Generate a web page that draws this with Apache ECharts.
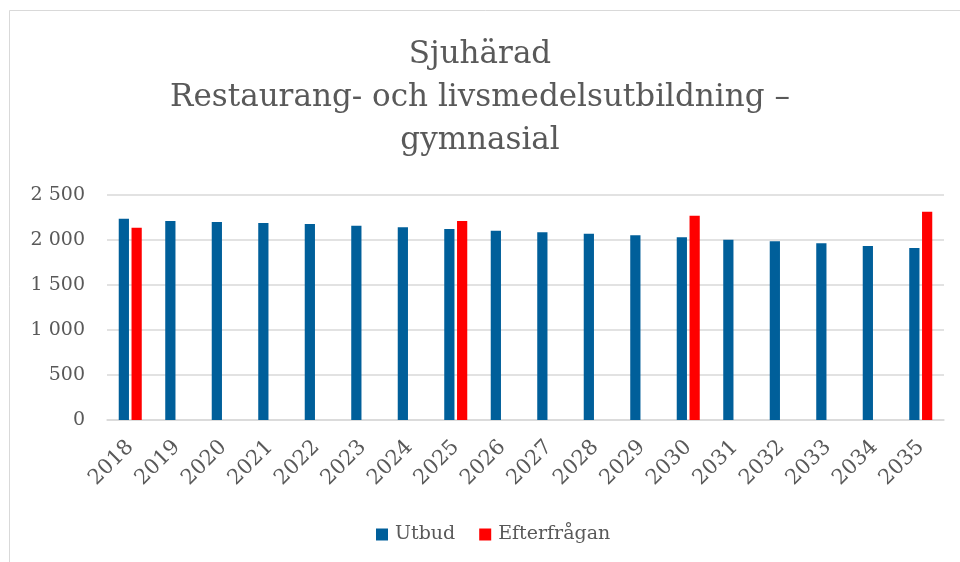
<!DOCTYPE html>
<html>
<head>
<meta charset="utf-8">
<script src="https://cdn.jsdelivr.net/npm/echarts@6/dist/echarts.min.js"></script>
<style>html,body{margin:0;padding:0;background:#fff}#c{width:960px;height:562px}</style>
</head>
<body>
<div id="c"></div>
<script>
const titleText = 'Sjuhärad\nRestaurang- och livsmedelsutbildning –\ngymnasial';
const categories = ['2018','2019','2020','2021','2022','2023','2024','2025','2026','2027','2028','2029','2030','2031','2032','2033','2034','2035'];
const utbud = [2237,2211,2200,2189,2178,2159,2141,2122,2103,2085,2070,2052,2030,2003,1985,1963,1933,1911];
const efterfragan = [2137,null,null,null,null,null,null,2211,null,null,null,null,2270,null,null,null,null,2314];
const seriesNames = ['Utbud','Efterfrågan'];
const yTicks = {min:0, max:2500, interval:500};

const FONT = '"DejaVu Serif", serif';
const chart = echarts.init(document.getElementById('c'), null, {renderer:'canvas'});
chart.setOption({
  animation:false,
  backgroundColor:'#fff',
  graphic:[{type:'rect', shape:{x:9.5,y:10.5,width:1000,height:600}, style:{fill:'none',stroke:'#d9d9d9',lineWidth:1}, silent:true, z:-1}],
  title:{text:titleText, left:'center', top:28, textStyle:{fontFamily:FONT, fontSize:31, fontWeight:'normal', color:'#595959', lineHeight:43}},
  legend:{bottom:13, left:371, itemWidth:12, itemHeight:12, itemGap:24, icon:'rect',
    textStyle:{fontFamily:FONT, fontSize:19, color:'#595959', padding:[0,0,0,2]}, data:seriesNames},
  grid:{left:107, right:16, top:195, bottom:142, containLabel:false},
  xAxis:{type:'category', data:categories,
    axisLine:{lineStyle:{color:'#d9d9d9', width:1.5}}, axisTick:{show:false},
    axisLabel:{rotate:45, interval:0, margin:24, fontFamily:FONT, fontSize:21, color:'#595959'}},
  yAxis:{type:'value', min:yTicks.min, max:yTicks.max, interval:yTicks.interval,
    axisLine:{show:false}, axisTick:{show:false},
    splitLine:{lineStyle:{color:'#d9d9d9', width:1.5}},
    axisLabel:{margin:22, fontFamily:FONT, fontSize:19, color:'#595959',
      formatter:v=>String(v).replace(/\B(?=(\d{3})+(?!\d))/g,' ')}},
  series:[
    {name:seriesNames[0], type:'bar', data:utbud, barWidth:'22%', barGap:'25%', itemStyle:{color:'#005f9a'}},
    {name:seriesNames[1], type:'bar', data:efterfragan, barWidth:'22%', barGap:'25%', itemStyle:{color:'#ff0000'}}
  ]
});
</script>
</body>
</html>
